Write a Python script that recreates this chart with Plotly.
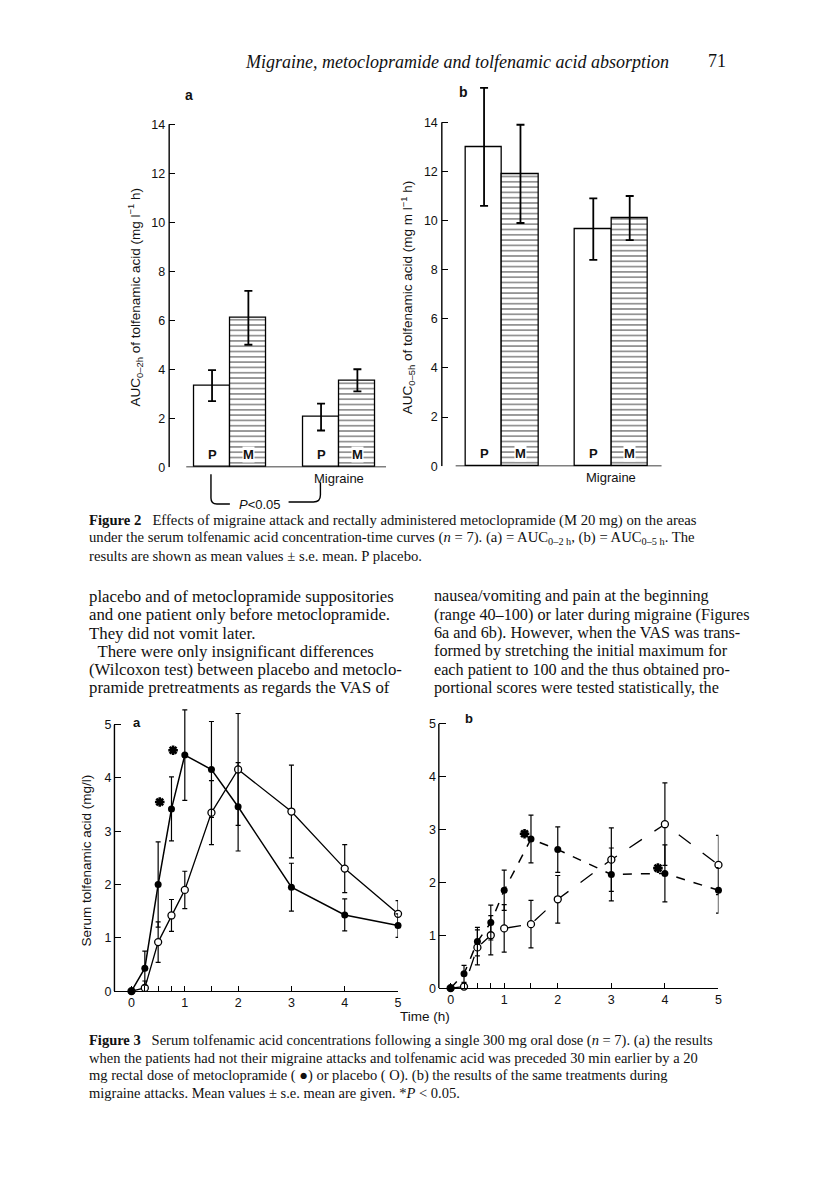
import plotly.graph_objects as go

# ---------------- data ----------------
# Figure 2: AUC bars (control, migraine)
fig2_groups = ["", "Migraine"]
fig2_treatments = ["P", "M"]
auc02_P = [3.33, 2.05]
auc02_P_se = [0.63, 0.55]
auc02_M = [6.10, 3.55]
auc02_M_se = [1.10, 0.45]
auc05_P = [13.0, 9.65]
auc05_P_se = [2.40, 1.25]
auc05_M = [11.9, 10.1]
auc05_M_se = [2.00, 0.90]
fig2_yticks = [0, 2, 4, 6, 8, 10, 12, 14]

# Figure 3: serum concentrations (mg/l)
time_h = [0, 0.25, 0.5, 0.75, 1, 1.5, 2, 3, 4, 5]
a_meto = [0, 0.43, 2.00, 3.42, 4.43, 4.16, 3.46, 1.95, 1.43, 1.23]
a_meto_se = [0, 0.32, 0.80, 0.60, 0.85, 0.90, 0.83, 0.45, 0.30, 0.22]
a_plac = [0, 0.06, 0.92, 1.42, 1.90, 3.35, 4.16, 3.37, 2.30, 1.45]
a_plac_se = [0, 0.13, 0.38, 0.30, 0.35, 0.60, 1.05, 0.87, 0.45, 0.25]
b_meto = [0, 0.27, 0.88, 1.24, 1.85, 2.82, 2.62, 2.15, 2.17, 1.85]
b_meto_se = [0, 0.16, 0.27, 0.33, 0.38, 0.45, 0.43, 0.50, 0.54, 0.43]
b_plac = [0, 0.03, 0.77, 1.00, 1.13, 1.21, 1.68, 2.43, 3.10, 2.33]
b_plac_se = [0, 0.05, 0.33, 0.37, 0.45, 0.45, 0.45, 0.60, 0.78, 0.56]
sig_a_x = [0.53, 0.78]
sig_a_y = [3.55, 4.52]
sig_b_x = [1.38, 3.87]
sig_b_y = [2.92, 2.27]
fig3_xtickvals = [0, 1, 2, 3, 4, 5]
fig3_xminorvals = [0.25, 0.5, 0.75, 1.5]
fig3_yticks = [0, 1, 2, 3, 4, 5]

W, H = 816, 1188
SANS = "Liberation Sans, Arial, sans-serif"
SERIF = "Liberation Serif, Times New Roman, serif"


def px(x):
    return x / W


def py(y):
    return 1 - y / H


def ydomain(y0_px, yaxis_top_px, axis_top_val, range_top):
    # bottom pixel of value 0, pixel of the axis' top tick value, full range top
    scale = (y0_px - yaxis_top_px) / axis_top_val
    return [py(y0_px), py(y0_px - range_top * scale)]


fig = go.Figure()


def pos(ti):
    return [g * 3 + ti for g in range(len(fig2_groups))]


def add_bars(xa, ya, pv, pse, mv, mse):
    fig.add_trace(go.Bar(
        x=pos(0), y=pv, width=1, xaxis=xa, yaxis=ya,
        marker=dict(color="white", line=dict(color="black", width=1.3)),
        error_y=dict(type="data", array=pse, color="black", thickness=1.8, width=4),
        cliponaxis=False, showlegend=False))
    fig.add_trace(go.Bar(
        x=pos(1), y=mv, width=1, xaxis=xa, yaxis=ya,
        marker=dict(color="white", line=dict(color="black", width=1.3),
                    pattern=dict(shape="-", fgcolor="black", bgcolor="white",
                                 size=5.3, solidity=0.28)),
        error_y=dict(type="data", array=mse, color="black", thickness=1.8, width=4),
        cliponaxis=False, showlegend=False))


add_bars("x", "y", auc02_P, auc02_P_se, auc02_M, auc02_M_se)
add_bars("x2", "y2", auc05_P, auc05_P_se, auc05_M, auc05_M_se)


def add_curves(xa, ya, meto, meto_se, plac, plac_se, dash_m, dash_p):
    fig.add_trace(go.Scatter(
        x=time_h, y=plac, xaxis=xa, yaxis=ya, mode="lines+markers",
        line=dict(color="black", width=1.3, dash=dash_p),
        marker=dict(symbol="circle", size=7, color="white",
                    line=dict(color="black", width=1.3)),
        error_y=dict(type="data", array=plac_se, color="black", thickness=1.2, width=2.5),
        cliponaxis=False, showlegend=False))
    fig.add_trace(go.Scatter(
        x=time_h, y=meto, xaxis=xa, yaxis=ya, mode="lines+markers",
        line=dict(color="black", width=1.5, dash=dash_m),
        marker=dict(symbol="circle", size=7, color="black"),
        error_y=dict(type="data", array=meto_se, color="black", thickness=1.2, width=2.5),
        cliponaxis=False, showlegend=False))


add_curves("x3", "y3", a_meto, a_meto_se, a_plac, a_plac_se, "solid", "solid")
add_curves("x4", "y4", b_meto, b_meto_se, b_plac, b_plac_se, "dash", "longdash")

# significance asterisks
for xa, ya, sx, sy in (("x3", "y3", sig_a_x, sig_a_y), ("x4", "y4", sig_b_x, sig_b_y)):
    fig.add_trace(go.Scatter(
        x=sx, y=sy, xaxis=xa, yaxis=ya, mode="markers",
        marker=dict(symbol="asterisk-open", size=8, color="black",
                    line=dict(color="black", width=2.6)),
        cliponaxis=False, showlegend=False, hoverinfo="skip"))

tick_common = dict(ticks="inside", tickwidth=1.3, tickcolor="black", showgrid=False,
                   zeroline=False, tickfont=dict(family=SANS, size=12.5, color="#111"))
minor_x = dict(tickvals=fig3_xminorvals, ticks="inside", ticklen=5, tickwidth=1.3,
               tickcolor="black", showgrid=False)

fig.update_layout(
    width=W, height=H, autosize=False,
    margin=dict(l=0, r=0, t=0, b=0),
    paper_bgcolor="white", plot_bgcolor="rgba(0,0,0,0)",
    bargap=0,
    xaxis=dict(domain=[px(170), px(388)], range=[-1.18, 4.79], visible=False, anchor="y"),
    yaxis=dict(domain=ydomain(470, 125, 14, 15), range=[0, 15], tickvals=fig2_yticks,
               anchor="x", showline=False, ticklen=6, ticklabelstandoff=3, **tick_common),
    xaxis2=dict(domain=[px(444), px(665)], range=[-1.16, 4.88], visible=False, anchor="y2"),
    yaxis2=dict(domain=ydomain(469, 123, 14, 16), range=[0, 16], tickvals=fig2_yticks,
                anchor="x2", showline=False, ticklen=6, ticklabelstandoff=3, **tick_common),
    xaxis3=dict(domain=[px(115), px(400)], range=[-0.32, 5.0], anchor="y3",
                tickvals=fig3_xtickvals, showline=True, minor=minor_x,
                linecolor="black", linewidth=1.4, ticklen=5, **tick_common),
    yaxis3=dict(domain=ydomain(997, 729, 5, 5.45), range=[0, 5.45], tickvals=fig3_yticks,
                anchor="x3", showline=False, ticklen=7, ticklabelstandoff=2, **tick_common),
    xaxis4=dict(domain=[px(441), px(722)], range=[-0.22, 5.0], anchor="y4",
                tickvals=fig3_xtickvals, showline=True, minor=minor_x,
                linecolor="black", linewidth=1.4, ticklen=5, **tick_common),
    yaxis4=dict(domain=ydomain(994, 728, 5, 5.45), range=[0, 5.45], tickvals=fig3_yticks,
                anchor="x4", showline=False, ticklen=7, ticklabelstandoff=2, **tick_common),
)

shapes = []
# y axis lines that stop at the top tick
for xr, yr, top in (("x domain", "y", 14), ("x2 domain", "y2", 14),
                    ("x3 domain", "y3", 5), ("x4 domain", "y4", 5)):
    shapes.append(dict(type="line", xref=xr, yref=yr, x0=0, x1=0, y0=0, y1=top,
                       line=dict(color="black", width=1.4)))
# baselines of the bar panels
shapes.append(dict(type="line", xref="x", yref="y", x0=-0.71, x1=4.79, y0=0, y1=0,
                   line=dict(color="black", width=1.5)))
shapes.append(dict(type="line", xref="x2", yref="y2", x0=-0.78, x1=4.88, y0=0, y1=0,
                   line=dict(color="black", width=1.5)))
# P<0.05 bracket
lb = f"M {px(212)},{py(477)} L {px(212)},{py(501)} Q {px(212)},{py(507)} {px(218)},{py(507)} L {px(231)},{py(507)}"
rb = f"M {px(290)},{py(505)} L {px(315)},{py(505)} Q {px(322)},{py(505)} {px(322)},{py(498)} L {px(322)},{py(485)}"
for p in (lb, rb):
    shapes.append(dict(type="path", xref="paper", yref="paper", path=p,
                       line=dict(color="black", width=1.4)))
fig.update_layout(shapes=shapes)

ann = []


def text(t, x, y, size, family=SANS, xanchor="center", yanchor="middle", angle=0, color="#111", bg=None):
    d = dict(text=t, x=px(x), y=py(y), xref="paper", yref="paper", showarrow=False,
             xanchor=xanchor, yanchor=yanchor, textangle=angle,
             font=dict(family=family, size=size, color=color), borderpad=0)
    if bg:
        d["bgcolor"] = bg
    ann.append(d)


# bar labels (P / M) and group label
for xa, ya in (("x", "y"), ("x2", "y2")):
    for ti, lab in enumerate(fig2_treatments):
        for xv in pos(ti):
            ann.append(dict(text=f"<b>{lab}</b>", x=xv, y=0, xref=xa, yref=ya,
                            showarrow=False, yanchor="bottom", yshift=4,
                            font=dict(family=SANS, size=13, color="#111"),
                            bgcolor="white" if lab == "M" else None, borderpad=0))
    ann.append(dict(text=fig2_groups[1], x=3.5, y=0, xref=xa, yref=ya, showarrow=False,
                    yanchor="top", yshift=-2, font=dict(family=SANS, size=13, color="#111")))

text("<b>a</b>", 190, 96, 14)
text("<b>b</b>", 466, 93, 14)
text("AUC<sub>0–2h</sub> of tolfenamic acid (mg l<sup>−1</sup> h)", 136, 299, 13.5, angle=-90)
text("AUC<sub>0–5h</sub> of tolfenamic acid (mg m l<sup>−1</sup> h)", 410, 299, 13.5, angle=-90)
text("<i>P</i><0.05", 261, 507, 13)

text("<b>a</b>", 138, 727, 13)
text("<b>b</b>", 471, 723, 13)
text("Serum tolfenamic acid (mg/l)", 87, 866, 13.5, angle=-90)
text("Time (h)", 427, 1023, 13.5)

# header
text("<i>Migraine, metoclopramide and tolfenamic acid absorption</i>", 245, 62, 18,
     family=SERIF, xanchor="left")
text("71", 721, 61, 18, family=SERIF)

NB = "\u00a0"
cap2 = [
    f"<b>Figure 2</b>{NB*3}Effects of migraine attack and rectally administered metoclopramide (M 20 mg) on the areas",
    "under the serum tolfenamic acid concentration-time curves (<i>n</i> = 7). (a) = AUC<sub>0–2 h</sub>, (b) = AUC<sub>0–5 h</sub>. The",
    "results are shown as mean values ± s.e. mean. P placebo.",
]
for i, line in enumerate(cap2):
    text(line, 88, 524 + i * 17.6, 14.7, family=SERIF, xanchor="left")

cap3 = [
    f"<b>Figure 3</b>{NB*3}Serum tolfenamic acid concentrations following a single 300 mg oral dose (<i>n</i> = 7). (a) the results",
    "when the patients had not their migraine attacks and tolfenamic acid was preceded 30 min earlier by a 20",
    "mg rectal dose of metoclopramide ( ●) or placebo ( O). (b) the results of the same treatments during",
    "migraine attacks. Mean values ± s.e. mean are given. *<i>P</i> < 0.05.",
]
for i, line in enumerate(cap3):
    text(line, 88, 1047 + i * 17.6, 14.5, family=SERIF, xanchor="left")

body_left = [
    "placebo and of metoclopramide suppositories",
    "and one patient only before metoclopramide.",
    "They did not vomit later.",
    f"{NB*2}There were only insignificant differences",
    "(Wilcoxon test) between placebo and metoclo-",
    "pramide pretreatments as regards the VAS of",
]
body_right = [
    "nausea/vomiting and pain at the beginning",
    "(range 40–100) or later during migraine (Figures",
    "6a and 6b). However, when the VAS was trans-",
    "formed by stretching the initial maximum for",
    "each patient to 100 and the thus obtained pro-",
    "portional scores were tested statistically, the",
]
for i, line in enumerate(body_left):
    text(line, 88, 600 + i * 18.4, 16.8, family=SERIF, xanchor="left")
for i, line in enumerate(body_right):
    text(line, 435, 600 + i * 18.4, 16.2, family=SERIF, xanchor="left")

fig.update_layout(annotations=ann)
fig.write_html("out.html", config={"displayModeBar": False},
               post_script="document.body.style.margin='0';")
